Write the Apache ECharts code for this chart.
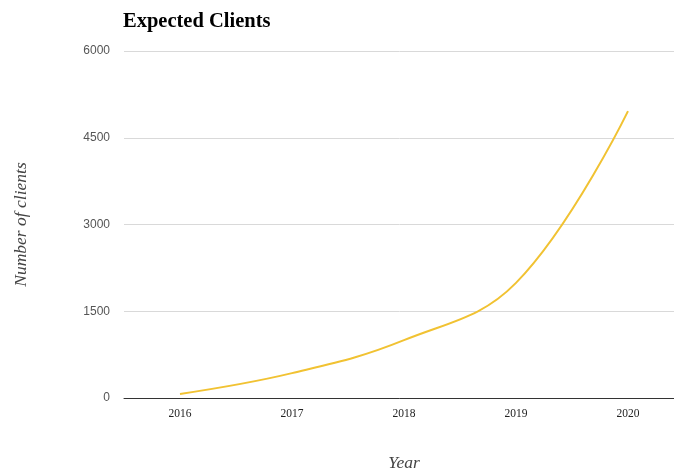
<!DOCTYPE html>
<html><head><meta charset="utf-8">
<script src="https://cdn.jsdelivr.net/npm/echarts@6/dist/echarts.min.js"></script>
<style>html,body{margin:0;padding:0;background:#fff}#c{width:674px;height:471px}</style>
</head><body><div id="c"></div>
<script>
const years = ['2016','2017','2018','2019','2020'];
const clients = [70, 430, 1000, 1990, 4960];
const yTicks = [0, 1500, 3000, 4500, 6000];

const chart = echarts.init(document.getElementById('c'));
chart.setOption({
  animation: false,
  title: {
    text: 'Expected Clients', left: 118, top: 6,
    textStyle: {fontFamily: 'Liberation Serif', fontWeight: 'bold', fontSize: 20.5, color: '#000'}
  },
  grid: {left: 124, right: -10, top: 51, bottom: 73, containLabel: false, outerBoundsMode: 'none'},
  xAxis: {
    type: 'category', data: years, boundaryGap: true,
    name: 'Year', nameLocation: 'middle', nameGap: 56,
    nameTextStyle: {fontFamily: 'Liberation Serif', fontStyle: 'italic', fontSize: 17.5, color: '#444'},
    axisLine: {lineStyle: {color: '#333', width: 1}},
    axisTick: {show: false},
    axisLabel: {fontFamily: 'Liberation Serif', fontSize: 11.5, color: '#222', margin: 10}
  },
  yAxis: {
    type: 'value', min: yTicks[0], max: yTicks[yTicks.length-1], interval: 1500,
    name: 'Number of clients', nameLocation: 'middle', nameGap: 94, nameRotate: 90,
    nameTextStyle: {fontFamily: 'Liberation Serif', fontStyle: 'italic', fontSize: 17.5, color: '#444'},
    axisLine: {show: false}, axisTick: {show: false},
    axisLabel: {fontFamily: 'Liberation Sans Narrow, Liberation Sans', fontSize: 12, color: '#555', margin: 14,
      formatter: function (v) { return String(v); }},
    splitLine: {lineStyle: {color: '#d9d9d9'}}
  },
  series: [{
    type: 'line', data: clients, smooth: 0.4, symbol: 'none',
    lineStyle: {color: '#f1c232', width: 2}
  }]
});
</script></body></html>
